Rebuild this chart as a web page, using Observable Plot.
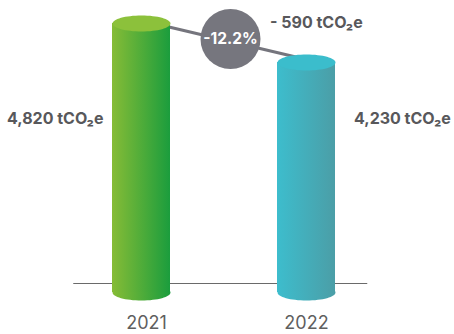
<!DOCTYPE html>
<html>
<head>
<meta charset="utf-8">
<script src="https://cdn.jsdelivr.net/npm/d3@7"></script>
<script src="https://cdn.jsdelivr.net/npm/@observablehq/plot@0.6"></script>
<style>
  html, body { margin: 0; padding: 0; background: #fff; }
  #chart { width: 454px; height: 334px; }
</style>
</head>
<body>
<div id="chart"></div>
<script>
// ---- data ----
const years = ["2021", "2022"];
const emissions = [4820, 4230];           // tCO2e
const valueLabels = ["4,820 tCO₂e", "4,230 tCO₂e"];
const changeLabel = "- 590 tCO₂e";
const changePct = "-12.2%";
const bodyLeft = ["#86bc36", "#3dbdcd"];
const bodyRight = ["#1b9d3d", "#4b9ea7"];
const topColors = ["#8cc13b", "#3bbdcc"];
const yFloor = 750;                       // value at the cylinder bottoms

const rows = years.map((year, i) => ({
  year, value: emissions[i], label: valueLabels[i],
  grad: `url(#grad${year})`, top: topColors[i]
}));

// ellipse symbol (flattened circle)
const ellipse = (k) => ({
  draw(ctx, size) {
    const rx = Math.sqrt(size / Math.PI), ry = rx * k, c = 0.5523;
    ctx.moveTo(rx, 0);
    ctx.bezierCurveTo(rx, ry * c, rx * c, ry, 0, ry);
    ctx.bezierCurveTo(-rx * c, ry, -rx, ry * c, -rx, 0);
    ctx.bezierCurveTo(-rx, -ry * c, -rx * c, -ry, 0, -ry);
    ctx.bezierCurveTo(rx * c, -ry, rx, -ry * c, rx, 0);
    ctx.closePath();
  }
});

const gray = "#58585b";
const font = "Inter, 'Open Sans', sans-serif";

const chart = Plot.plot({
  width: 454,
  height: 334,
  marginLeft: 58.25,
  marginRight: 64.75,
  marginTop: 23,
  marginBottom: 42,
  style: { fontFamily: font, fontSize: "17px", color: "#5e5e5e", background: "white" },
  x: { domain: years, paddingInner: 0.65, paddingOuter: 0.325, axis: null },
  y: { domain: [yFloor, emissions[0]], axis: null },
  color: { type: "identity" },
  marks: [
    Plot.ruleY([yFloor], { dy: -9, insetLeft: 15, insetRight: 22, stroke: "#6a6a6a", strokeWidth: 1.2 }),
    Plot.link([{ x1: years[0], y1: emissions[0], x2: years[1], y2: emissions[1] }], {
      x1: "x1", y1: "y1", x2: "x2", y2: "y2", dy: -3, stroke: "#75757d", strokeWidth: 3
    }),
    Plot.dot(rows, { x: "year", y: () => yFloor, r: 29, symbol: ellipse(0.276), fill: "grad", stroke: "none" }),
    Plot.barY(rows, { x: "year", y1: () => yFloor, y2: "value", fill: "grad" }),
    Plot.dot(rows, { x: "year", y: "value", r: 29, symbol: ellipse(0.276), fill: "top", stroke: "none" }),
    Plot.dot([{ x: years[0], y: (emissions[0] + emissions[1]) / 2 }], {
      x: "x", y: "y", dx: 89, dy: -4, r: 30, fill: "#76767e", stroke: "none"
    }),
    Plot.text([{ x: years[0], y: (emissions[0] + emissions[1]) / 2 }], {
      x: "x", y: "y", dx: 89, dy: -4, text: () => changePct, fill: "white",
      fontSize: 15.5, fontWeight: 700, letterSpacing: -0.2
    }),
    Plot.text([{ x: years[1], y: emissions[0] }], {
      x: "x", y: "y", dx: -36.5, dy: -1, text: () => changeLabel, textAnchor: "start",
      fill: gray, fontSize: 16, fontWeight: 700, letterSpacing: -0.2
    }),
    Plot.text(rows.slice(0, 1), {
      x: "year", text: "label", frameAnchor: "top", lineAnchor: "middle", dy: 95, dx: -38, textAnchor: "end",
      fill: gray, fontSize: 16, fontWeight: 700, letterSpacing: -0.2
    }),
    Plot.text(rows.slice(1), {
      x: "year", text: "label", frameAnchor: "top", lineAnchor: "middle", dy: 95, dx: 47.5, textAnchor: "start",
      fill: gray, fontSize: 16, fontWeight: 700, letterSpacing: -0.2
    }),
    // year labels under the cylinders
    Plot.text(rows.slice(0, 1), {
      x: "year", text: "year", frameAnchor: "bottom", lineAnchor: "middle", dy: 31, dx: 5,
      fill: "#5f5f5f", fontSize: 18, fontWeight: 400
    }),
    Plot.text(rows.slice(1), {
      x: "year", text: "year", frameAnchor: "bottom", lineAnchor: "middle", dy: 31, dx: 0,
      fill: "#5f5f5f", fontSize: 18, fontWeight: 400
    })
  ]
});

// gradient definitions for the cylinder bodies
const defs = d3.create("svg:defs");
years.forEach((year, i) => {
  const g = defs.append("linearGradient").attr("id", `grad${year}`)
    .attr("x1", "0").attr("x2", "1").attr("y1", "0").attr("y2", "0");
  g.append("stop").attr("offset", "0").attr("stop-color", bodyLeft[i]);
  g.append("stop").attr("offset", "1").attr("stop-color", bodyRight[i]);
});
chart.insertBefore(defs.node(), chart.firstChild);

document.getElementById("chart").appendChild(chart);
</script>
</body>
</html>
